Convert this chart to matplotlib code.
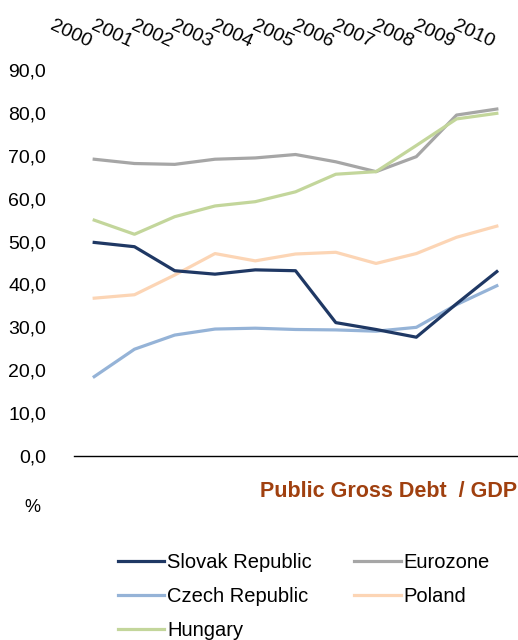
import matplotlib.pyplot as plt
import numpy as np

plt.rcParams['font.family'] = ['Liberation Sans', 'DejaVu Sans']

years = ['2000', '2001', '2002', '2003', '2004', '2005',
         '2006', '2007', '2008', '2009', '2010']

slovak = [49.8, 48.8, 43.2, 42.4, 43.4, 43.2, 31.1, 29.5, 27.7, 35.5, 43.0]
eurozone = [69.2, 68.2, 68.0, 69.2, 69.5, 70.3, 68.6, 66.3, 69.8, 79.5, 80.9]
czech = [18.5, 24.9, 28.2, 29.6, 29.8, 29.5, 29.4, 29.1, 30.0, 35.3, 39.7]
poland = [36.8, 37.6, 42.2, 47.2, 45.5, 47.1, 47.5, 44.9, 47.2, 51.0, 53.6]
hungary = [55.0, 51.7, 55.8, 58.3, 59.3, 61.6, 65.7, 66.3, 72.4, 78.6, 79.9]

yticks = np.arange(0, 91, 10)
ytick_labels = ['%.1f' % v for v in yticks]
ytick_labels = [s.replace('.', ',') for s in ytick_labels]

fig = plt.figure(figsize=(5.18, 6.4), dpi=100)
ax = fig.add_axes([0.143, 0.2875, 0.855, 0.6031])

x = np.arange(len(years))
lw = 2.3
l_sk, = ax.plot(x, slovak, color='#1F3864', lw=lw, label='Slovak Republic', zorder=5)
l_ez, = ax.plot(x, eurozone, color='#A6A6A6', lw=lw, label='Eurozone', zorder=3)
l_cz, = ax.plot(x, czech, color='#95B3D7', lw=lw, label='Czech Republic', zorder=4)
l_pl, = ax.plot(x, poland, color='#FCD5B5', lw=lw, label='Poland', zorder=2)
l_hu, = ax.plot(x, hungary, color='#C3D69B', lw=lw, label='Hungary', zorder=3)

ax.set_xlim(-0.5, len(years) - 0.5)
ax.set_ylim(0, 90)

ax.set_yticks(yticks)
ax.set_yticklabels(ytick_labels, fontsize=14)
ax.tick_params(axis='y', length=0, pad=20)

# year labels sit above the plot, slanted
ax.xaxis.tick_top()
ax.set_xticks(x)
ax.set_xticklabels(years, fontsize=14, rotation=-25, ha='right', va='bottom')
ax.tick_params(axis='x', length=0, pad=14)

for side in ['left', 'right', 'top']:
    ax.spines[side].set_visible(False)
ax.spines['bottom'].set_linewidth(1.0)
ax.spines['bottom'].set_color('black')

fig.text(0.998, 0.224, 'Public Gross Debt  / GDP', ha='right', va='baseline',
         fontsize=15.5, fontweight='bold', color='#A0400F')
fig.text(0.048, 0.2, '%', ha='left', va='baseline', fontsize=13)

handles = [l_sk, l_cz, l_hu, l_ez, l_pl]
fig.legend(handles, [h.get_label() for h in handles], ncol=2, frameon=False,
           loc='lower left', bbox_to_anchor=(0.193, -0.028), fontsize=14.5,
           handlelength=2.3, handletextpad=0.15, columnspacing=2.1,
           labelspacing=0.75)

fig.savefig('out.png', dpi=100)
